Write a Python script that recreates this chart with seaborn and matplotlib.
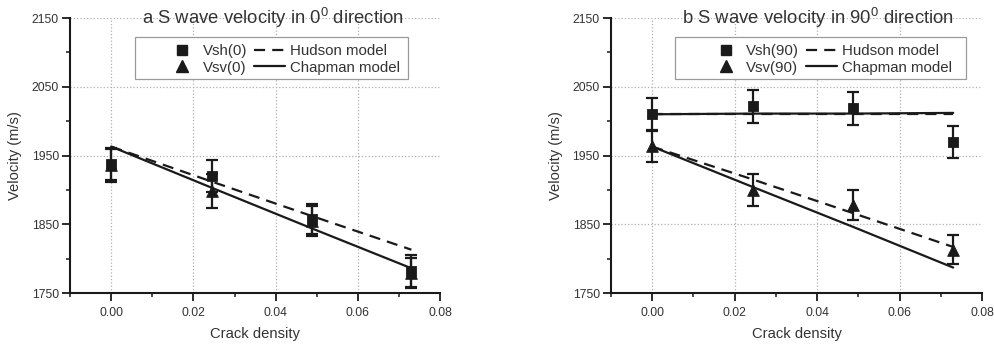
import numpy as np
import pandas as pd
import seaborn as sns
import matplotlib.pyplot as plt
from matplotlib.lines import Line2D
from matplotlib.patches import Rectangle
from matplotlib.ticker import MultipleLocator, FormatStrFormatter

# crack densities of the four samples
crack = [0.0, 0.0245, 0.0488, 0.073]

# panel a: 0 degree direction
vsh0 = [1938, 1920, 1858, 1782]
vsh0_err = [23, 23, 22, 23]
vsv0 = [1936, 1898, 1855, 1779]
vsv0_err = [24, 25, 22, 22]
hudson0 = [1963, 1912, 1862, 1813]
chapman0 = [1963, 1903, 1844, 1786]

# panel b: 90 degree direction
vsh90 = [2010, 2022, 2019, 1970]
vsh90_err = [24, 24, 24, 23]
vsv90 = [1964, 1900, 1878, 1813]
vsv90_err = [23, 23, 22, 21]
hudson_sh90 = [2010, 2010, 2010, 2010]
chapman_sh90 = [2010, 2011, 2011, 2012]
hudson_sv90 = [1963, 1915, 1866, 1817]
chapman_sv90 = [1963, 1904, 1846, 1787]

titles = ["a S wave velocity in 0$^0$ direction", "b S wave velocity in 90$^0$ direction"]
vsh_labels = ["Vsh(0)", "Vsh(90)"]
vsv_labels = ["Vsv(0)", "Vsv(90)"]

sns.set_style("ticks")
plt.rcParams["font.family"] = ["Liberation Sans", "DejaVu Sans"]
plt.rcParams["mathtext.default"] = "regular"

ink = "#1a1a1a"
txt = "#333333"
dash = (0, (5, 3.2))

fig = plt.figure(figsize=(9.95, 3.45), dpi=100)
ax_a = fig.add_axes([0.0704, 0.1507, 0.372, 0.797])
ax_b = fig.add_axes([0.614, 0.1507, 0.373, 0.797])

# axis, data, models, title x, legend x, frame x, frame width
panels = [
    (ax_a, vsh0, vsh0_err, vsv0, vsv0_err, [(hudson0, chapman0)], 0.549, 0.261, 0.176, 0.738),
    (ax_b, vsh90, vsh90_err, vsv90, vsv90_err,
     [(hudson_sh90, chapman_sh90), (hudson_sv90, chapman_sv90)], 0.557, 0.267, 0.1725, 0.784),
]

for i, (ax, sh, sh_e, sv, sv_e, models, tx, lx, bx, bw) in enumerate(panels):
    df = pd.DataFrame({"crack": crack, "vsh": sh, "vsv": sv})

    # model curves
    for hud, chap in models:
        sns.lineplot(x=crack, y=hud, ax=ax, color=ink, lw=1.6, linestyle=dash)
        sns.lineplot(x=crack, y=chap, ax=ax, color=ink, lw=1.6)

    # measured data with error bars
    ax.errorbar(crack, sh, yerr=sh_e, fmt="none", ecolor=ink, elinewidth=1.6, capsize=4, capthick=1.6)
    ax.errorbar(crack, sv, yerr=sv_e, fmt="none", ecolor=ink, elinewidth=1.6, capsize=4, capthick=1.6)
    sns.scatterplot(data=df, x="crack", y="vsh", ax=ax, marker="s", s=55, color=ink, edgecolor=ink, zorder=5)
    sns.scatterplot(data=df, x="crack", y="vsv", ax=ax, marker="^", s=70, color=ink, edgecolor=ink, zorder=5)

    ax.set_xlim(-0.01, 0.08)
    ax.set_ylim(1750, 2150)
    ax.xaxis.set_major_locator(MultipleLocator(0.02))
    ax.xaxis.set_minor_locator(MultipleLocator(0.01))
    ax.xaxis.set_major_formatter(FormatStrFormatter("%.2f"))
    ax.yaxis.set_major_locator(MultipleLocator(100))
    ax.yaxis.set_minor_locator(MultipleLocator(50))
    ax.set_yticks([1750, 1850, 1950, 2050, 2150])

    ax.grid(True, which="major", linestyle=":", color="#b0b0b0", lw=0.9)
    for gl in ax.get_xgridlines():
        if abs(gl.get_xdata()[0]) > 0.075 or gl.get_xdata()[0] < -0.005:
            gl.set_visible(False)
    for gl in ax.get_ygridlines():
        if gl.get_ydata()[0] in (1750, 2150):
            gl.set_visible(False)

    sns.despine(ax=ax)
    for s in ("left", "bottom"):
        ax.spines[s].set_color(ink)
        ax.spines[s].set_linewidth(1.5)
    ax.tick_params(which="major", direction="out", length=6, width=1.3, color=ink,
                   labelsize=8.7, labelcolor=txt, pad=2)
    ax.tick_params(which="minor", direction="out", length=3, width=1.1, color=ink)
    ax.tick_params(axis="x", which="major", pad=4)

    ax.set_xlabel("Crack density", fontsize=10.6, color=txt, labelpad=6)
    ax.set_ylabel("Velocity (m/s)", fontsize=10.6, color=txt, labelpad=7)

    ax.text(tx, 1.0, titles[i], transform=ax.transAxes, ha="center", va="center",
            fontsize=13.3, color=txt)

    # legend frame and entries
    ax.add_patch(Rectangle((bx, 0.778), bw, 0.153, transform=ax.transAxes, fill=True,
                           facecolor="white", edgecolor="#9a9a9a", lw=0.9, zorder=6))
    handles = [
        Line2D([], [], marker="s", ls="none", color=ink, markersize=7),
        Line2D([], [], marker="^", ls="none", color=ink, markersize=8),
        Line2D([], [], color=ink, lw=1.6, linestyle=dash),
        Line2D([], [], color=ink, lw=1.6),
    ]
    labels = [vsh_labels[i], vsv_labels[i], "Hudson model", "Chapman model"]
    leg = ax.legend(handles, labels, ncol=2, loc="center left", bbox_to_anchor=(lx, 0.849),
                    frameon=False, borderpad=0, borderaxespad=0, handlelength=2.1,
                    handletextpad=0.3, columnspacing=0.45, labelspacing=0.15, fontsize=10.8)
    leg.set_zorder(7)
    for t in leg.get_texts():
        t.set_color(txt)

fig.savefig("out.png", dpi=100)
